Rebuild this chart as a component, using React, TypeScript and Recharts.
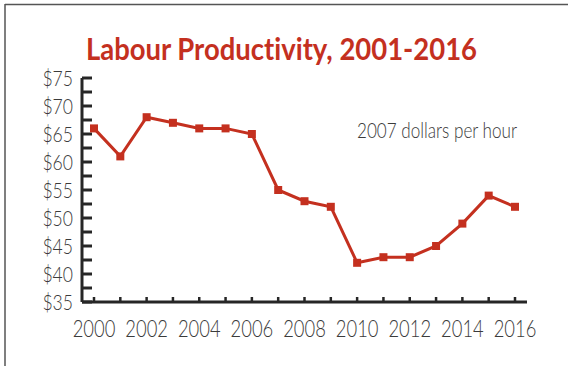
import React from 'react';
import { LineChart, Line, XAxis, YAxis } from 'recharts';

const years = [2000, 2001, 2002, 2003, 2004, 2005, 2006, 2007, 2008, 2009, 2010, 2011, 2012, 2013, 2014, 2015, 2016];
const productivity = [66, 61, 68, 67, 66, 66, 65, 55, 53, 52, 42, 43, 43, 45, 49, 54, 52];
const yTicks = [35, 37.5, 40, 42.5, 45, 47.5, 50, 52.5, 55, 57.5, 60, 62.5, 65, 67.5, 70, 72.5, 75];
const xLabelYears = [2000, 2002, 2004, 2006, 2008, 2010, 2012, 2014, 2016];
const chartTitle = 'Labour Productivity, 2001-2016';
const unitNote = '2007 dollars per hour';

const data = years.map((year, i) => ({ year, value: productivity[i] }));

const FONT = "Lato, 'Open Sans', sans-serif";
const TEXT = '#3b3b3b';
const RED = '#c4301f';
const AXIS = '#262626';

const XTick = (props: any) => {
  const { x, y, payload } = props;
  if (!xLabelYears.includes(payload.value)) return <g />;
  return (
    <text
      transform={`translate(${x},${y}) scale(0.8,1)`}
      textAnchor="middle"
      fontFamily={FONT}
      fontWeight={300}
      fontSize={23}
      fill={TEXT}
    >
      {payload.value}
    </text>
  );
};

const YTick = (props: any) => {
  const { x, y, payload } = props;
  if (payload.value % 5 !== 0) return <g />;
  return (
    <text
      transform={`translate(${x},${y + 8}) scale(0.8,1)`}
      textAnchor="end"
      fontFamily={FONT}
      fontWeight={300}
      fontSize={22}
      fill={TEXT}
    >
      {`$${payload.value}`}
    </text>
  );
};

const SquareDot = (props: any) => {
  const { cx, cy, index } = props;
  if (cx == null || cy == null) return <g key={index} />;
  return <rect key={index} x={cx - 4} y={cy - 4} width={8} height={8} fill={RED} />;
};

export default function App() {
  return (
    <div style={{ position: 'absolute', left: 0, top: 0, width: 568, height: 366, background: '#fff' }}>
      <LineChart
        width={568}
        height={366}
        data={data}
        margin={{ top: 78, right: 41, bottom: 0, left: 0 }}
      >
        <XAxis
          dataKey="year"
          type="number"
          domain={[1999.544, 2016.456]}
          ticks={years}
          interval={0}
          height={64}
          tickSize={-5}
          tickMargin={40}
          tick={<XTick />}
          axisLine={{ stroke: AXIS, strokeWidth: 3 }}
          tickLine={{ stroke: AXIS, strokeWidth: 2.5 }}
          allowDataOverflow
        />
        <YAxis
          type="number"
          domain={[35, 75]}
          ticks={yTicks}
          interval={0}
          width={82}
          tickSize={-10}
          tickMargin={19}
          tick={<YTick />}
          axisLine={{ stroke: AXIS, strokeWidth: 3 }}
          tickLine={{ stroke: AXIS, strokeWidth: 3 }}
          allowDataOverflow
        />
        <Line
          type="linear"
          dataKey="value"
          stroke={RED}
          strokeWidth={3}
          dot={<SquareDot />}
          activeDot={false}
          isAnimationActive={false}
        />
      </LineChart>
      <svg width={568} height={366} style={{ position: 'absolute', left: 0, top: 0, pointerEvents: 'none' }}>
        <line x1={5} y1={4.5} x2={568} y2={4.5} stroke="#555" strokeWidth={1.5} />
        <line x1={5} y1={4} x2={5} y2={366} stroke="#555" strokeWidth={1.5} />
        <text
          x={86}
          y={59.5}
          textLength={391}
          lengthAdjust="spacingAndGlyphs"
          fontFamily={FONT}
          fontWeight={700}
          fontSize={31}
          fill={RED}
          style={{ fontVariantLigatures: 'none' }}
        >
          {chartTitle}
        </text>
        <text
          x={357}
          y={138}
          textLength={160}
          lengthAdjust="spacingAndGlyphs"
          fontFamily={FONT}
          fontWeight={300}
          fontSize={22}
          fill={TEXT}
        >
          {unitNote}
        </text>
      </svg>
    </div>
  );
}
